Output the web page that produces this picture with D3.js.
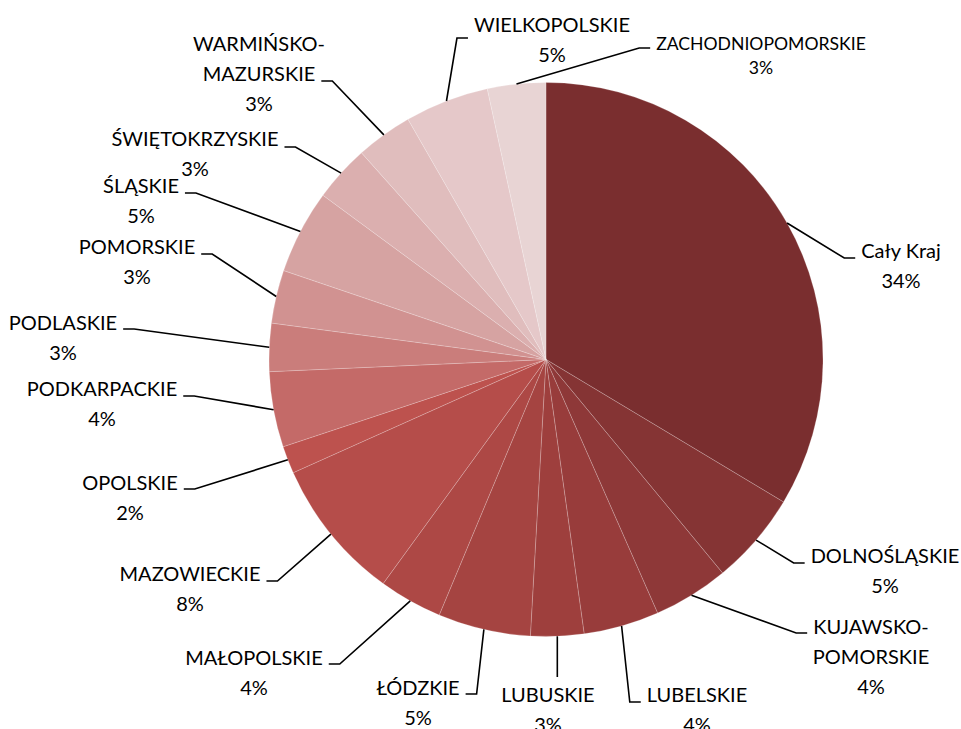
<!DOCTYPE html>
<html>
<head>
<meta charset="utf-8">
<script src="https://cdn.jsdelivr.net/npm/d3@7"></script>
<style>
  html, body { margin: 0; padding: 0; background: #fff; }
  svg { display: block; }
  .lbl { font-family: Lato, 'Open Sans', sans-serif; fill: #000; }
</style>
</head>
<body>
<div id="chart"></div>
<script>
'use strict';

// regions, clockwise from 12 o'clock
const regions = [
  'Cały Kraj', 'DOLNOŚLĄSKIE', 'KUJAWSKO-POMORSKIE', 'LUBELSKIE', 'LUBUSKIE',
  'ŁÓDZKIE', 'MAŁOPOLSKIE', 'MAZOWIECKIE', 'OPOLSKIE', 'PODKARPACKIE',
  'PODLASKIE', 'POMORSKIE', 'ŚLĄSKIE', 'ŚWIĘTOKRZYSKIE', 'WARMIŃSKO-MAZURSKIE',
  'WIELKOPOLSKIE', 'ZACHODNIOPOMORSKIE'
];

// share of total
const shares = [
  33.6, 5.4, 4.4, 4.4, 3.1, 5.4, 3.7, 8.3, 1.6, 4.4,
  2.8, 3.1, 4.9, 3.3, 3.3, 4.9, 3.4
];

const colors = [
  '#7a2e2f', '#853434', '#8e3838', '#983c3b', '#9e3f3d', '#a54441',
  '#ad4845', '#b54d4a', '#bd524e', '#c46a68', '#ca7d7b', '#d19291',
  '#d6a3a2', '#dbafaf', '#e0bdbd', '#e5c8c9', '#e8d4d4'
];

// label placement (layout only): centre x, first baseline, side of leader, leader y
const labelLayout = [
  { x: 901, y: 258, side: 'r', ay: 258 },
  { x: 885, y: 563, side: 'r', ay: 563 },
  { x: 871, y: 634, side: 'r', ay: 633 },
  { x: 697, y: 702, side: 'r', ay: 702 },
  { x: 548, y: 702, side: 'b', ay: 677 },
  { x: 418, y: 695, side: 'l', ay: 694 },
  { x: 254, y: 665, side: 'l', ay: 664 },
  { x: 190, y: 581, side: 'l', ay: 581 },
  { x: 130, y: 490, side: 'l', ay: 489 },
  { x: 102, y: 396, side: 'l', ay: 396 },
  { x: 63, y: 330, side: 'l', ay: 329 },
  { x: 137, y: 254, side: 'l', ay: 254 },
  { x: 141, y: 193, side: 'l', ay: 193 },
  { x: 195, y: 146, side: 'l', ay: 147 },
  { x: 259, y: 51, side: 'l', ay: 81 },
  { x: 552, y: 32, side: 'r', ay: 38 },
  { x: 761, y: 50, side: 'r', ay: 48, size: 17.6, lh: 24 }
];

const width = 961;
const height = 729;
const cx = 546;
const cy = 359.5;
const radius = 277;
const fontSize = 20;
const lineH = 30;

const data = regions.map((name, i) => ({ name, value: shares[i], i }));
const total = d3.sum(shares);

const pie = d3.pie().sort(null).value((d) => d.value);
const arc = d3.arc().innerRadius(0).outerRadius(radius);
const arcs = pie(data);

const svg = d3
  .select('#chart')
  .append('svg')
  .attr('width', width)
  .attr('height', height);

const g = svg.append('g').attr('transform', 'translate(' + cx + ',' + cy + ')');

g
  .selectAll('path.slice')
  .data(arcs)
  .enter()
  .append('path')
  .attr('class', 'slice')
  .attr('d', arc)
  .style('fill', (d) => colors[d.index])
  .style('stroke', 'rgba(255,255,255,0.4)')
  .style('stroke-width', 0.5);

const edgePoint = (d) => {
  const a = (d.startAngle + d.endAngle) / 2;
  return [cx + radius * Math.sin(a), cy - radius * Math.cos(a)];
};

const labels = svg.append('g');

arcs.forEach((d) => {
  const lay = labelLayout[d.index];
  const lh = lay.lh || lineH;
  const lines = d.data.name.split(/(?<=-)/);
  lines.push(Math.round((d.data.value / total) * 100) + '%');

  const t = labels
    .append('text')
    .attr('class', 'lbl')
    .style('font-size', (lay.size || fontSize) + 'px')
    .attr('text-anchor', 'middle');
  lines.forEach((s, k) => {
    t.append('tspan').attr('x', lay.x).attr('y', lay.y + k * lh).text(s);
  });

  // width of the text line the leader attaches to
  const k = Math.max(0, Math.round((lay.ay - lay.y) / lh));
  const w = t.selectAll('tspan').nodes()[Math.min(k, lines.length - 1)].getComputedTextLength();

  const p = edgePoint(d);
  let pts;
  if (lay.side === 'b') {
    pts = [p, [p[0], lay.ay]];
  } else if (lay.side === 'r') {
    const end = lay.x - w / 2 - 6;
    pts = [p, [end - 11, lay.ay], [end, lay.ay]];
  } else {
    const end = lay.x + w / 2 + 6;
    pts = [p, [end + 11, lay.ay], [end, lay.ay]];
  }

  labels
    .append('path')
    .attr('d', d3.line()(pts))
    .style('fill', 'none')
    .style('stroke', '#000')
    .style('stroke-width', 1.6);
});
</script>
</body>
</html>
